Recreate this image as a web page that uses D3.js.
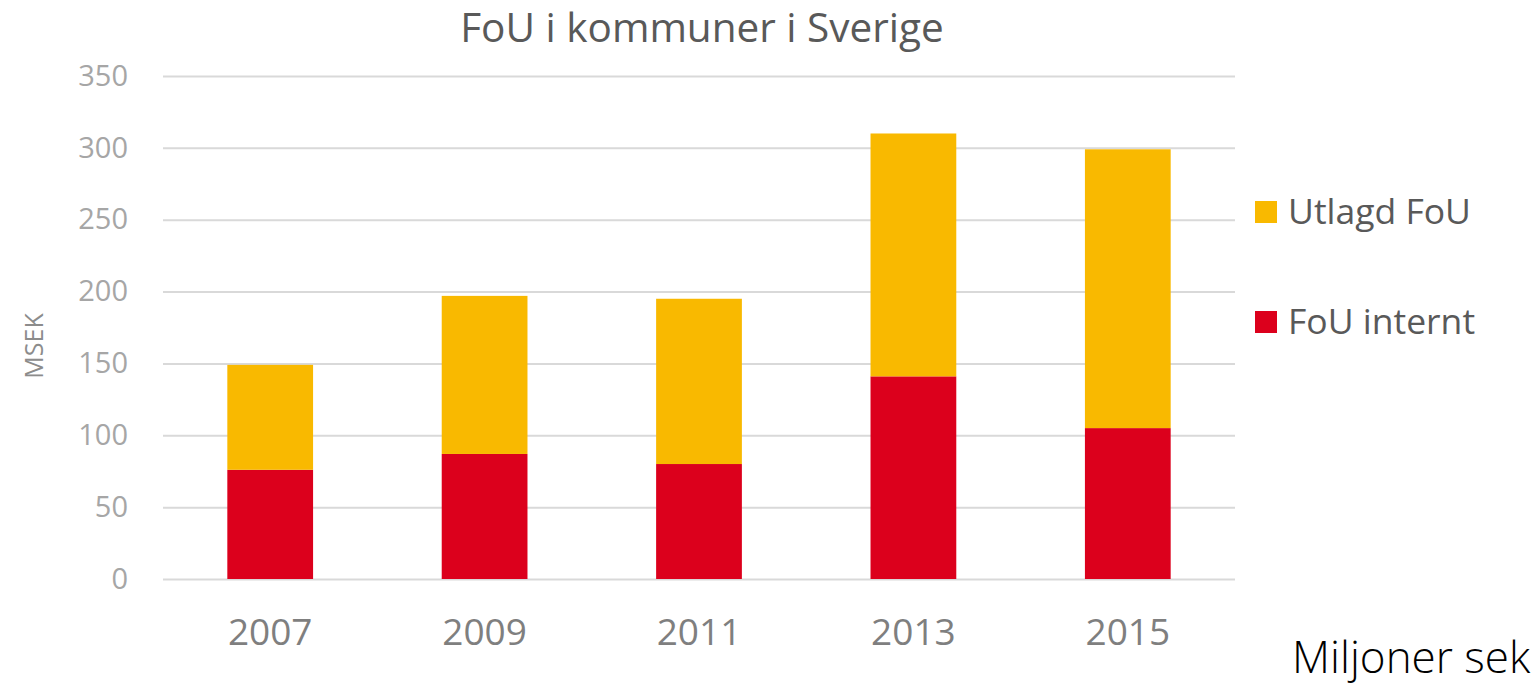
<!DOCTYPE html>
<html>
<head>
<meta charset="utf-8">
<script src="https://cdn.jsdelivr.net/npm/d3@7"></script>
<style>
  body { margin: 0; background: #fff; }
  text { font-family: "Open Sans", "Noto Sans", sans-serif; }
</style>
</head>
<body>
<div id="chart"></div>
<script>
let years = ["2007", "2009", "2011", "2013", "2015"];
let fouInternt = [76, 87, 80, 141, 105];
let utlagdFou = [73, 110, 115, 169, 194];
let seriesNames = ["FoU internt", "Utlagd FoU"];
let seriesColors = ["#dc001c", "#f9b900"];
let yTicks = [0, 50, 100, 150, 200, 250, 300, 350];

let width = 1534, height = 697;
let plotLeft = 163, plotRight = 1235, plotTop = 76, plotBottom = 579;

let rows = years.map(function(y, i) {
	return { year: y, "FoU internt": fouInternt[i], "Utlagd FoU": utlagdFou[i] };
});

let svg = d3.select("#chart")
	.append("svg")
	.attr("width", width)
	.attr("height", height);

let x = d3.scaleBand()
	.domain(years)
	.range([plotLeft, plotRight])
	.paddingInner(0.6)
	.paddingOuter(0.3);

let y = d3.scaleLinear()
	.domain([0, 350])
	.range([plotBottom, plotTop]);

// gridlines + y labels
let yAxis = svg.append("g")
	.attr("transform", "translate(" + plotLeft + ",0)")
	.call(d3.axisLeft(y).tickValues(yTicks).tickSize(-(plotRight - plotLeft)).tickPadding(35));
yAxis.select(".domain").remove();
yAxis.selectAll(".tick line").attr("stroke", "#d9d9d9").attr("stroke-width", 2);
yAxis.selectAll(".tick text")
	.attr("fill", "#a6a6a6")
	.style("font-size", "29px")
	.style("font-family", "'Open Sans', sans-serif");

// stacked bars
let stack = d3.stack().keys(seriesNames)(rows);

svg.selectAll(".layer")
	.data(stack)
	.enter().append("g")
	.attr("class", "layer")
	.attr("fill", function(d, i) { return seriesColors[i]; })
	.selectAll("rect")
	.data(function(d) { return d; })
	.enter().append("rect")
	.attr("x", function(d) { return x(d.data.year); })
	.attr("y", function(d) { return y(d[1]); })
	.attr("width", x.bandwidth())
	.attr("height", function(d) { return y(d[0]) - y(d[1]); });

// x labels
let xAxis = svg.append("g")
	.attr("transform", "translate(0," + plotBottom + ")")
	.call(d3.axisBottom(x).tickSize(0).tickPadding(40));
xAxis.select(".domain").remove();
xAxis.selectAll(".tick text")
	.attr("fill", "#7f7f7f")
	.style("font-size", "37px")
	.style("font-family", "'Open Sans', sans-serif");

// title
svg.append("text")
	.attr("x", 702)
	.attr("y", 42)
	.attr("text-anchor", "middle")
	.attr("fill", "#595959")
	.style("font-size", "40.5px")
	.text("FoU i kommuner i Sverige");

// y axis title
svg.append("text")
	.attr("transform", "translate(43,346) rotate(-90)")
	.attr("text-anchor", "middle")
	.attr("fill", "#8c8c8c")
	.style("font-size", "25px")
	.text("MSEK");

// legend
let legendItems = [
	{ name: "Utlagd FoU", color: seriesColors[1], y: 212 },
	{ name: "FoU internt", color: seriesColors[0], y: 322 }
];
let legend = svg.selectAll(".legend")
	.data(legendItems)
	.enter().append("g")
	.attr("class", "legend")
	.attr("transform", function(d) { return "translate(1255," + d.y + ")"; });
legend.append("rect")
	.attr("x", 0)
	.attr("y", -11)
	.attr("width", 22)
	.attr("height", 22)
	.attr("fill", function(d) { return d.color; });
legend.append("text")
	.attr("x", 33)
	.attr("y", 0)
	.attr("dy", ".35em")
	.attr("fill", "#595959")
	.style("font-size", "35.5px")
	.text(function(d) { return d.name; });

// unit note
svg.append("text")
	.attr("x", 1292)
	.attr("y", 673)
	.attr("fill", "#000")
	.style("font-size", "44px")
	.style("font-weight", "300")
	.text("Miljoner sek");
</script>
</body>
</html>
